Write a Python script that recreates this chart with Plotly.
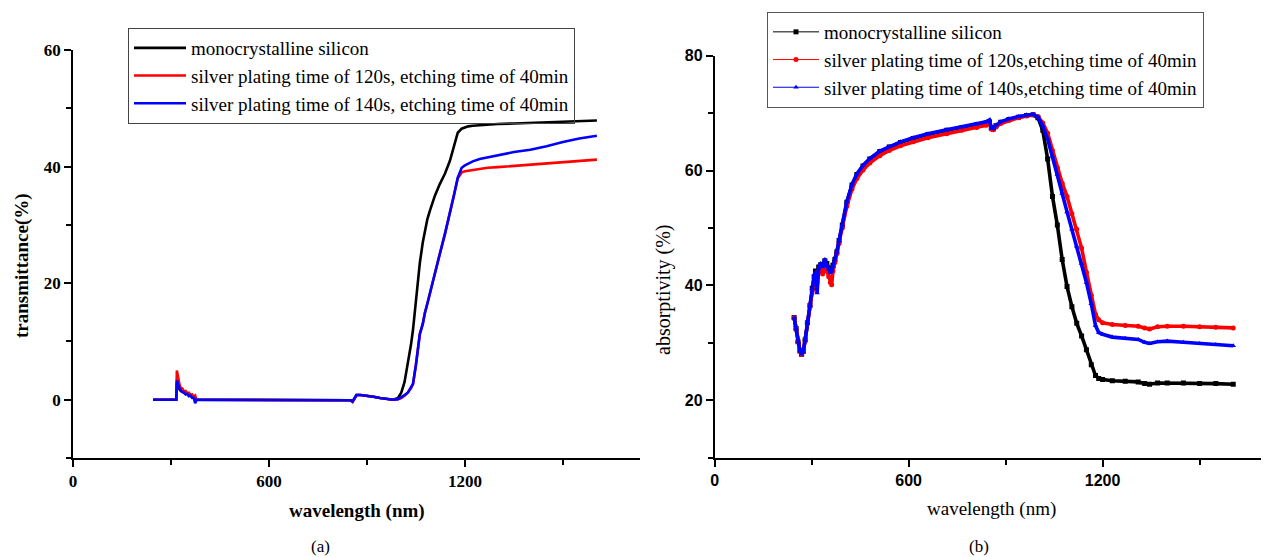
import plotly.graph_objects as go

# ---------------- data: transmittance (panel a) ----------------
T_wl = [245, 316, 318, 322, 326, 330, 335, 340, 345, 350, 355, 360, 365, 370, 374, 378,
        400, 500, 600, 700, 800, 826, 850, 856, 862, 868, 880, 900, 920, 940, 960, 980,
        995, 1005, 1015, 1025, 1035, 1041, 1050, 1062, 1071, 1077, 1085, 1093, 1102, 1108,
        1123, 1139, 1154, 1166, 1178, 1190, 1200, 1210, 1224, 1245, 1270, 1300, 1350, 1400,
        1429, 1450, 1500, 1550, 1604]

T_black = [0, 0, 2.8, 2.2, 1.8, 1.5, 1.6, 1.2, 1.0, 1.1, 0.7, 0.8, 0.4, 0.5, 0.2, 0,
           0, 0, 0, 0, 0, 0, -0.1, -0.3, 0.2, 0.8, 0.8, 0.7, 0.5, 0.3, 0.1, 0.0,
           0.3, 1.2, 3.0, 6.0, 9.5, 12.0, 17.0, 23.5, 27.0, 29.0, 31.0, 32.5, 34.0, 35.0,
           37.0, 38.8, 41.0, 43.4, 45.8, 46.5, 46.7, 46.9, 47.0, 47.1, 47.2, 47.3, 47.4, 47.5,
           47.6, 47.6, 47.7, 47.8, 47.9]

T_red = [0, 0, 5.0, 3.5, 2.6, 2.0, 1.9, 1.4, 1.5, 1.1, 1.2, 0.8, 0.9, 0.5, 0.7, 0,
         0, 0, 0, 0, 0, 0, -0.1, -0.4, 0.2, 0.8, 0.8, 0.7, 0.5, 0.3, 0.1, 0.0,
         0.1, 0.3, 0.7, 1.2, 2.0, 2.7, 6.0, 11.3, 13.0, 14.8, 16.5, 18.2, 20.2, 21.6,
         25.0, 28.5, 31.9, 35.0, 38.0, 39.0, 39.2, 39.3, 39.4, 39.6, 39.8, 39.9, 40.1, 40.3,
         40.4, 40.5, 40.7, 40.9, 41.2]

T_blue = [0, 0, 3.3, 2.5, 2.0, 1.6, 1.3, 1.2, 0.9, 1.0, 0.6, 0.7, 0.3, 0.3, -0.6, 0,
          0, 0, 0, 0, 0, 0, -0.1, -0.3, 0.2, 0.8, 0.8, 0.7, 0.5, 0.3, 0.1, 0.0,
          0.1, 0.4, 0.8, 1.2, 2.0, 2.7, 6.0, 11.3, 13.0, 14.8, 16.5, 18.2, 20.2, 21.6,
          25.0, 28.5, 31.9, 35.0, 38.1, 39.8, 40.2, 40.5, 40.9, 41.3, 41.6, 41.9, 42.5, 42.9,
          43.2, 43.5, 44.2, 44.8, 45.3]

# ---------------- data: absorptivity (panel b) ----------------
A_wl = [246, 252, 258, 264, 269, 274, 280, 287, 295, 302, 308, 312, 317, 322, 328, 334,
        341, 347, 353, 358, 362, 366, 372, 378, 385, 395, 409, 425, 440, 459, 480, 511,
        540, 575, 614, 660, 718, 765, 811, 840, 850, 856, 862, 870, 885, 910, 940, 965,
        985, 1000, 1015, 1030, 1045, 1060, 1075, 1090, 1105, 1120, 1135, 1150, 1165, 1178,
        1188, 1200, 1230, 1270, 1310, 1330, 1345, 1370, 1400, 1450, 1500, 1550, 1604]

A_black = [34.4, 32.5, 30.2, 28.6, 28.0, 28.5, 30.5, 33.5, 36.5, 39.5, 41.5, 42.5, 42.0, 43.2, 43.6, 43.0,
           44.3, 43.8, 43.0, 42.6, 42.8, 43.5, 44.5, 45.8, 47.8, 50.5, 54.5, 57.5, 59.3, 60.8, 62.0, 63.3,
           64.1, 64.9, 65.6, 66.3, 67.0, 67.5, 68.0, 68.3, 68.5, 67.4, 67.3, 67.8, 68.4, 68.9, 69.3, 69.6,
           69.7, 69.2, 67.0, 62.0, 55.5, 50.5, 44.5, 39.8, 36.3, 33.4, 31.2, 28.8, 26.2, 24.3,
           23.8, 23.6, 23.4, 23.3, 23.2, 22.9, 22.8, 23.0, 23.0, 23.0, 22.9, 22.9, 22.8]

A_red = [34.4, 32.5, 30.2, 28.6, 28.0, 28.5, 30.5, 33.5, 36.5, 39.0, 40.5, 41.5, 40.5, 42.5, 42.8, 42.0,
         43.5, 42.5, 41.5, 40.5, 40.1, 42.5, 44.0, 45.5, 47.3, 50.0, 53.8, 56.8, 58.6, 60.1, 61.3, 62.6,
         63.5, 64.3, 65.0, 65.7, 66.4, 67.0, 67.5, 67.9, 68.2, 67.2, 67.1, 67.6, 68.2, 68.7, 69.2, 69.5,
         69.7, 69.4, 68.3, 66.5, 63.5, 60.5, 57.8, 55.5, 52.5, 49.8, 46.5, 42.3, 38.3, 35.0,
         34.0, 33.5, 33.2, 33.0, 32.9, 32.6, 32.4, 32.8, 32.9, 32.9, 32.8, 32.7, 32.6]

A_blue = [34.4, 32.5, 30.2, 28.6, 28.0, 28.5, 30.5, 33.5, 36.5, 39.5, 41.8, 42.3, 38.7, 43.0, 43.8, 43.2,
          44.5, 43.5, 42.8, 42.3, 42.5, 43.3, 44.5, 45.8, 47.8, 50.5, 54.6, 57.6, 59.4, 60.9, 62.1, 63.4,
          64.2, 65.0, 65.7, 66.4, 67.1, 67.6, 68.1, 68.5, 68.8, 67.4, 67.3, 67.9, 68.5, 69.0, 69.4, 69.7,
          69.8, 69.3, 67.8, 65.5, 62.5, 59.3, 56.0, 52.8, 49.8, 46.8, 43.8, 40.5, 36.8, 33.0,
          31.8, 31.5, 31.0, 30.8, 30.6, 30.1, 29.9, 30.2, 30.3, 30.1, 29.9, 29.7, 29.5]

names_a = ["monocrystalline silicon",
           "silver plating time of 120s, etching time of 40min",
           "silver plating time of 140s, etching time of 40min"]
names_b = ["monocrystalline silicon",
           "silver plating time of 120s,etching time of 40min",
           "silver plating time of 140s,etching time of 40min"]
colors = ["#000000", "#ff0000", "#0000ff"]
symbols = ["square", "circle", "triangle-up"]

# the page body adds an 8 px offset; lay out in reference pixel coordinates
OFF = 8
W, H = 1269 - OFF, 557 - OFF
SERIF = "Liberation Serif"
SANS = "Liberation Sans"

fig = go.Figure()

# panel a
for yv, nm, c in zip([T_black, T_red, T_blue], names_a, colors):
    fig.add_trace(go.Scatter(x=T_wl, y=yv, name=nm, mode="lines",
                             line=dict(color=c, width=2.6),
                             xaxis="x", yaxis="y", legend="legend"))

# panel b (thick curves, legend proxies with thin lines)
for yv, nm, c, s in zip([A_black, A_red, A_blue], names_b, colors, symbols):
    fig.add_trace(go.Scatter(x=A_wl, y=yv, name=nm, mode="lines+markers",
                             line=dict(color=c, width=3.6),
                             marker=dict(color=c, symbol=s, size=5),
                             xaxis="x2", yaxis="y2", showlegend=False))
for nm, c, s in zip(names_b, colors, symbols):
    fig.add_trace(go.Scatter(x=[None], y=[None], name=nm, mode="lines+markers",
                             line=dict(color=c, width=1),
                             marker=dict(color=c, symbol=s, size=5),
                             xaxis="x2", yaxis="y2", legend="legend2"))


def px(x):
    return (x - OFF) / W


def py(y):
    return 1 - (y - OFF) / H


common_axis = dict(showline=True, linecolor="black", linewidth=1.6, ticks="outside",
                   ticklen=7, tickwidth=1.5, tickcolor="black", showgrid=False,
                   zeroline=False, automargin=False)
minor_x = dict(tickvals=[300, 900, 1500], ticks="outside", ticklen=5,
               tickwidth=1.5, tickcolor="black")

fig.update_layout(
    width=W, height=H,
    margin=dict(l=0, r=0, t=0, b=0, pad=0, autoexpand=False),
    paper_bgcolor="white", plot_bgcolor="white",
    xaxis=dict(domain=[px(73), 1 - (1269 - 640) / W], range=[0, 1736], anchor="y",
               tickvals=[0, 600, 1200], minor=minor_x,
               tickfont=dict(family=SERIF, size=17, color="black", weight="bold"),
               **common_axis),
    yaxis=dict(domain=[py(458), py(50)], range=[-10, 60], anchor="x",
               tickvals=[0, 20, 40, 60],
               minor=dict(tickvals=[-10, 10, 30, 50], ticks="outside", ticklen=5,
                          tickwidth=1.5, tickcolor="black"),
               tickfont=dict(family=SERIF, size=17, color="black", weight="bold"),
               **common_axis),
    xaxis2=dict(domain=[px(714.6), 1.0], range=[0, 1714.6], anchor="y2",
                tickvals=[0, 600, 1200], minor=minor_x,
                tickfont=dict(family=SANS, size=16, color="black", weight="bold"),
                **common_axis),
    yaxis2=dict(domain=[py(457.7), py(55.7)], range=[10, 80], anchor="x2",
                tickvals=[20, 40, 60, 80],
                minor=dict(tickvals=[10, 30, 50, 70], ticks="outside", ticklen=5,
                           tickwidth=1.5, tickcolor="black"),
                tickfont=dict(family=SANS, size=16, color="black", weight="bold"),
                **common_axis),
    legend=dict(x=px(128), y=py(28), xanchor="left", yanchor="top",
                bgcolor="rgba(255,255,255,0)", bordercolor="#444444", borderwidth=1,
                font=dict(family=SERIF, size=19, color="black"), itemwidth=52,
                tracegroupgap=0),
    legend2=dict(x=px(767), y=py(12), xanchor="left", yanchor="top",
                 bgcolor="rgba(255,255,255,0)", bordercolor="#555555", borderwidth=1,
                 font=dict(family=SERIF, size=19, color="black"), itemwidth=46,
                 tracegroupgap=0),
    annotations=[
        dict(text="wavelength (nm)", x=px(356.5), y=py(511), xref="paper", yref="paper",
             showarrow=False, xanchor="center", yanchor="middle",
             font=dict(family=SERIF, size=19, color="black", weight="bold")),
        dict(text="wavelength (nm)", x=px(991.5), y=py(509), xref="paper", yref="paper",
             showarrow=False, xanchor="center", yanchor="middle",
             font=dict(family=SERIF, size=19, color="black")),
        dict(text="transmittance(%)", x=px(22), y=py(266), xref="paper", yref="paper",
             showarrow=False, xanchor="center", yanchor="middle", textangle=-90,
             font=dict(family=SERIF, size=19, color="black", weight="bold")),
        dict(text="absorptivity (%)", x=px(663), y=py(290), xref="paper", yref="paper",
             showarrow=False, xanchor="center", yanchor="middle", textangle=-90,
             font=dict(family=SERIF, size=20, color="black")),
        dict(text="(a)", x=px(320), y=py(546), xref="paper", yref="paper",
             showarrow=False, xanchor="center", yanchor="middle",
             font=dict(family=SERIF, size=17, color="black")),
        dict(text="(b)", x=px(979), y=py(546), xref="paper", yref="paper",
             showarrow=False, xanchor="center", yanchor="middle",
             font=dict(family=SERIF, size=17, color="black")),
    ],
)

fig.write_html("out.html")
